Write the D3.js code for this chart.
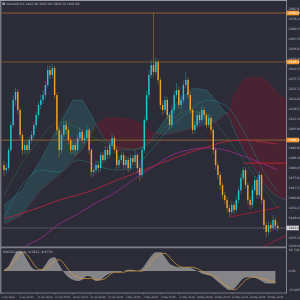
<!DOCTYPE html>
<html><head><meta charset="utf-8">
<script src="https://cdn.jsdelivr.net/npm/d3@7"></script>
<style>html,body{margin:0;padding:0;background:#2b2c38;overflow:hidden}text{font-family:"DejaVu Sans",sans-serif}</style>
</head><body><svg id="c" width="300" height="300"></svg>
<script>
// ---------- DATA ----------
const symbolTitle = "XAUUSD,H4  1942.90 1945.00 1939.50 1941.60";
const macdTitle = "MACD(12,26,9) -9.5621 -8.6734";
const opens = [1982.0,1978.9,1980.2,1991.8,2007.9,2024.0,2029.2,2017.6,2001.5,1991.8,1995.0,1991.8,1998.2,2001.5,2007.9,2014.3,2020.8,2024.0,2027.2,2033.7,
2043.3,2040.1,2044.6,2027.2,2004.7,1991.8,2001.5,2007.9,2004.7,1998.2,1991.8,1995.0,1991.8,1999.5,2003.4,1998.2,1999.5,2004.7,1991.8,1977.6,
1978.9,1982.1,1980.2,1988.6,1985.4,1991.8,1988.6,1995.0,1999.5,1991.8,1982.1,1985.4,1988.6,1982.1,1985.4,1980.2,1986.6,1984.1,1988.6,1980.2,
1975.7,1991.8,2011.1,2027.2,2040.1,2046.5,2042.0,2048.5,2036.9,2020.8,2017.6,2024.0,2014.3,2007.9,2017.6,2027.2,2030.4,2020.8,2024.0,2033.7,
2036.9,2027.2,2017.6,2004.7,2007.9,2014.3,2011.1,2017.6,2014.3,2007.9,2012.4,2004.7,1991.8,1982.1,1975.7,1969.3,1962.8,1959.6,1954.4,1951.9,
1956.4,1953.2,1959.6,1966.0,1973.8,1978.9,1969.3,1959.6,1956.4,1966.0,1972.5,1962.8,1975.7,1959.6,1943.5,1939.0,1943.5,1941.6,1946.7,1942.9];
const closes = [1978.9,1980.2,1991.8,2007.9,2024.0,2029.2,2017.6,2001.5,1991.8,1995.0,1991.8,1998.2,2001.5,2007.9,2014.3,2020.8,2024.0,2027.2,2033.7,2043.3,
2040.1,2044.6,2027.2,2004.7,1991.8,2001.5,2007.9,2004.7,1998.2,1991.8,1995.0,1991.8,1999.5,2003.4,1998.2,1999.5,2004.7,1991.8,1977.6,1978.9,
1982.1,1980.2,1988.6,1985.4,1991.8,1988.6,1995.0,1999.5,1991.8,1982.1,1985.4,1988.6,1982.1,1985.4,1980.2,1986.6,1984.1,1988.6,1980.2,1975.7,
1991.8,2011.1,2027.2,2040.1,2046.5,2042.0,2048.5,2036.9,2020.8,2017.6,2024.0,2014.3,2007.9,2017.6,2027.2,2030.4,2020.8,2024.0,2033.7,2036.9,
2027.2,2017.6,2004.7,2007.9,2014.3,2011.1,2017.6,2014.3,2007.9,2012.4,2004.7,1991.8,1982.1,1975.7,1969.3,1962.8,1959.6,1954.4,1951.9,1956.4,
1953.2,1959.6,1966.0,1973.8,1978.9,1969.3,1959.6,1956.4,1966.0,1972.5,1962.8,1975.7,1959.6,1943.5,1939.0,1943.5,1941.6,1946.7,1942.9,1941.6];
const highs = [1984.5,1983.0,1993.5,2010.0,2027.0,2032.0,2031.0,2019.0,2003.0,1997.5,1998.0,2000.5,2004.0,2010.0,2016.5,2023.0,2027.5,2030.5,2036.0,2046.5,
2046.0,2047.0,2046.0,2029.0,2006.5,2004.0,2010.5,2011.0,2006.5,2000.0,1997.5,1997.0,2002.0,2006.5,2005.0,2002.0,2008.0,2006.0,1993.0,1981.5,
1985.0,1984.5,1991.0,1990.5,1994.5,1994.0,1997.5,2002.5,2001.0,1993.5,1988.0,1991.0,1990.5,1988.0,1987.5,1989.0,1988.5,1991.5,1990.0,1982.0,
1994.0,2013.5,2030.0,2043.0,2050.0,2080.0,2051.5,2050.0,2038.5,2024.0,2027.0,2026.0,2016.0,2020.5,2030.0,2035.0,2032.5,2027.0,2036.5,2042.0,
2038.5,2029.0,2019.0,2010.5,2017.0,2016.5,2020.5,2019.5,2016.0,2015.0,2014.0,2006.5,1993.5,1984.0,1977.5,1971.0,1965.0,1961.5,1956.5,1959.0,
1958.5,1962.0,1968.5,1976.5,1981.0,1980.5,1971.0,1962.0,1968.5,1975.0,1974.0,1978.5,1977.0,1961.0,1945.5,1946.0,1945.5,1950.0,1948.5,1945.0];
const lows = [1975.0,1976.5,1978.5,1990.0,2006.0,2020.5,2015.0,1999.0,1988.5,1989.0,1989.5,1990.0,1996.0,1999.5,2005.5,2012.5,2018.0,2021.5,2025.0,2032.0,
2037.5,2038.0,2025.0,2001.5,1987.0,1989.5,1999.0,2002.0,1995.5,1989.0,1989.5,1988.5,1990.0,1997.5,1996.0,1995.5,1997.5,1989.0,1974.5,1975.0,
1976.5,1977.5,1978.0,1983.0,1983.5,1986.0,1986.5,1993.0,1989.5,1979.5,1980.0,1983.0,1979.5,1980.0,1977.5,1978.5,1981.5,1982.0,1977.0,1972.0,
1974.0,1990.0,2009.5,2025.0,2038.0,2039.0,2040.0,2034.0,2018.0,2014.5,2015.5,2012.0,2005.0,2006.0,2015.5,2025.0,2018.5,2018.0,2022.0,2031.5,
2025.0,2015.0,2002.0,2002.5,2006.0,2009.0,2009.5,2012.0,2005.5,2006.0,2002.0,1989.0,1979.5,1973.0,1966.5,1960.0,1957.0,1951.5,1948.5,1950.0,
1950.5,1951.5,1957.5,1964.0,1972.0,1967.0,1957.0,1953.5,1954.5,1964.0,1960.5,1961.0,1957.0,1940.5,1935.5,1937.0,1939.0,1939.5,1940.5,1939.5];

// indicator lines sampled every 8 bars (bar index -> price)
const maIdx = [0,8,16,24,32,40,48,56,64,72,80,88,96,104,112,119];
const maRed = [1947.4,1951.2,1955.1,1959.6,1962.8,1966.7,1971.8,1976.3,1980.9,1985.4,1989.9,1993.7,1997.0,1998.2,1997.0,1995.7];
const maPurple = [1919.7,1928.7,1935.1,1944.1,1950.6,1957.7,1964.1,1972.5,1980.2,1987.9,1991.8,1993.1,1991.8,1987.9,1983.4,1978.9];
const maGreen = [1962.8,1983.4,1999.5,2009.8,2006.0,1998.9,1994.4,1992.4,1997.0,2009.8,2016.9,2014.3,2001.5,1985.4,1969.3,1954.4];
const tealLine = [1948.0,1969.3,1978.9,1977.6,1985.4,1982.1,1978.9,1980.2,1991.8,2006.0,2016.3,2024.0,2020.8,2004.7,1980.2,1964.8];

// Ichimoku cloud
const cloudIdx = [0,8,16,24,30,34,38,40,44,50,56,60,64,66,70,76,82,88,92,96,98,100,104,108,112,116,120,123];
const spanA = [1956.4,1966.0,1985.4,2007.9,2024.0,2024.0,2014.3,2007.9,1998.2,1991.8,1991.8,1993.1,1998.2,2002.8,2011.1,2024.0,2031.7,2030.4,2024.0,2016.3,2012.4,2004.7,1991.8,1982.1,1972.5,1964.8,1960.9,1959.6];
const spanB = [1943.5,1949.9,1966.0,1975.7,1985.4,1991.8,2001.5,2007.9,2012.4,2012.4,2011.1,2007.9,2003.4,2002.8,2001.5,2003.4,2006.0,2007.9,2009.8,2014.3,2016.3,2027.2,2036.9,2038.8,2038.8,2033.7,2027.2,2024.0];

// horizontal levels and trend lines
const levels = [2080.00, 2048.50, 1998.20];
const redLevel = {from:104, to:124, price:1983.4};
const trendLines = [[98.3,1948.7,120,1955.1],[112.6,1929.3,123,1937.1]];

// price axis tick labels
const priceTicks = [2082.61,2076.20,2069.79,2063.38,2056.97,2050.56,2044.15,2037.74,2031.33,2024.92,2018.51,2012.10,2005.69,
1992.87,1986.46,1980.05,1973.64,1967.23,1960.82,1954.41,1948.00,1935.18,1930.00];

// MACD (every 2 bars)
const macdIdx = d3.range(0,120,2);
const macdHist = [1,4,11,16,15,9,3,1,1,5,10,11,5,-1,-5,-7,-8,-7,-4,-5,-8,-7,-4,-2,-1,-1,0,1,1,0,
2,7,12,15,15,11,6,4,3,3,3,2,0,-2,-3,-4,-7,-10,-13,-15,-14,-10,-6,-5,-5,-6,-8,-10,-10,-10];
const macdSignal = [0,2,7,12,15,13,8,3,1,2,5,8,9,6,1,-3,-5,-6,-6,-6,-7,-7,-6,-3,-1,-1,-1,0,0,0,
0,2,7,11,14,14,11,7,4,3,3,3,2,0,-2,-3,-5,-8,-11,-13,-15,-13,-9,-6,-5,-5,-6,-7,-8,-9];
const macdTicks = [16.729, 0.00, -15.087];
const macdTickText = ["16.729","0.00","-15.087"];

const dateLabels = ["3 Apr 2023","6 Apr 16:00","12 Apr 08:00","17 Apr 00:00","19 Apr 16:00","24 Apr 08:00","27 Apr 00:00","1 May 16:00",
"4 May 08:00","9 May 00:00","11 May 16:00","16 May 08:00","19 May 00:00","23 May 16:00","26 May 08:00","30 May 16:00"];

// ---------- DRAW ----------
const C = {bg:'#2b2c38', bull:'#27c6d6', bear:'#f2a32a', axis:'#9a9aa2', txt:'#bdbdc4',
  levels:['#b06a28','#6b4a31','#7d5430'], tag:'#f0962a'};
const svg = d3.select('#c');
svg.append('rect').attr('width',300).attr('height',300).attr('fill',C.bg);

const x = d3.scaleLinear().domain([0,119]).range([4,277.7]);
const y = d3.scaleLinear().domain([1930.0,2082.6]).range([246,9]);
const yM = d3.scaleLinear().domain([-15.087,16.729]).range([290,250]);

const defs = svg.append('defs');
defs.append('clipPath').attr('id','mc').append('rect').attr('x',1.5).attr('y',1).attr('width',285).attr('height',245.6);
defs.append('clipPath').attr('id','sc').append('rect').attr('x',1.5).attr('y',248.5).attr('width',285).attr('height',44);
const main = svg.append('g').attr('clip-path','url(#mc)');

// cloud
const cloud = cloudIdx.map((d,i)=>({i:d,a:spanA[i],b:spanB[i]}));
main.append('path').datum(cloud)
  .attr('d', d3.area().x(d=>x(d.i)).y0(d=>y(d.b)).y1(d=>y(Math.max(d.a,d.b))))
  .attr('fill','#2f6672').attr('fill-opacity',0.38);
main.append('path').datum(cloud)
  .attr('d', d3.area().x(d=>x(d.i)).y0(d=>y(d.b)).y1(d=>y(Math.min(d.a,d.b))))
  .attr('fill','#5c1f2e').attr('fill-opacity',0.62);
main.append('path').datum(cloud).attr('d', d3.line().x(d=>x(d.i)).y(d=>y(d.a)))
  .attr('fill','none').attr('stroke','#2f8490').attr('stroke-width',0.5).attr('opacity',0.8);
main.append('path').datum(cloud).attr('d', d3.line().x(d=>x(d.i)).y(d=>y(d.b)))
  .attr('fill','none').attr('stroke','#7a2838').attr('stroke-width',0.5).attr('opacity',0.8);

// levels
levels.forEach((v,k)=>{
  main.append('line').attr('x1',0).attr('x2',287).attr('y1',y(v)).attr('y2',y(v))
    .attr('stroke',C.levels[k]).attr('stroke-width',k===0?0.8:1.3);
});
// bid line
main.append('line').attr('x1',0).attr('x2',287).attr('y1',y(closes[closes.length-1])).attr('y2',y(closes[closes.length-1]))
  .attr('stroke','#6c6c76').attr('stroke-width',0.7);

// moving averages
const ln = d3.line().x(d=>x(d[0])).y(d=>y(d[1])).curve(d3.curveMonotoneX);
const series = (arr)=>maIdx.map((d,i)=>[d,arr[i]]);
main.append('path').attr('d',ln(series(tealLine))).attr('fill','none').attr('stroke','#2a8a96').attr('stroke-width',0.6).attr('opacity',0.7);
main.append('path').attr('d',ln(series(maPurple))).attr('fill','none').attr('stroke','#9c2f8c').attr('stroke-width',0.8);
main.append('path').attr('d',ln(series(maRed))).attr('fill','none').attr('stroke','#b3243c').attr('stroke-width',0.9);
main.append('path').attr('d',ln(series(maGreen))).attr('fill','none').attr('stroke','#2f8f3f').attr('stroke-width',0.7).attr('stroke-dasharray','1,1.2');

// trend lines & red level
trendLines.forEach(t=>{
  main.append('line').attr('x1',x(t[0])).attr('y1',y(t[1])).attr('x2',x(t[2])).attr('y2',y(t[3]))
    .attr('stroke','#a81c32').attr('stroke-width',0.8);
});
main.append('line').attr('x1',x(redLevel.from)).attr('x2',x(redLevel.to)).attr('y1',y(redLevel.price)).attr('y2',y(redLevel.price))
  .attr('stroke','#c8202f').attr('stroke-width',0.9);

// candles
const idx = d3.range(closes.length);
const col = i => closes[i] >= opens[i] ? C.bull : C.bear;
main.selectAll('.wk').data(idx).join('line')
  .attr('x1',i=>x(i)).attr('x2',i=>x(i)).attr('y1',i=>y(highs[i])).attr('y2',i=>y(lows[i]))
  .attr('stroke',col).attr('stroke-width',0.6).attr('stroke-opacity',0.6);
const cw = 1.4;
main.selectAll('.bd').data(idx).join('rect')
  .attr('x',i=>x(i)-cw/2).attr('width',cw)
  .attr('y',i=>y(Math.max(opens[i],closes[i])))
  .attr('height',i=>Math.max(0.7, Math.abs(y(opens[i])-y(closes[i]))))
  .attr('fill',col);

// MACD subpanel
const sub = svg.append('g').attr('clip-path','url(#sc)');
const mData = macdIdx.map((d,i)=>({i:d,h:macdHist[i],s:macdSignal[i]}));
sub.append('path').datum(mData)
  .attr('d', d3.area().x(d=>x(d.i)).y0(yM(0)).y1(d=>yM(d.h)).curve(d3.curveMonotoneX))
  .attr('fill','#858588');
sub.append('path').datum(mData)
  .attr('d', d3.line().x(d=>x(d.i)).y(d=>yM(d.s)).curve(d3.curveMonotoneX))
  .attr('fill','none').attr('stroke','#c9953c').attr('stroke-width',0.8);

// frame
const fr = svg.append('g').attr('stroke',C.axis).attr('fill','none');
fr.append('line').attr('x1',0).attr('x2',287).attr('y1',0.5).attr('y2',0.5).attr('stroke-width',1);
fr.append('line').attr('x1',0.8).attr('x2',0.8).attr('y1',0).attr('y2',293);
fr.append('line').attr('x1',286.5).attr('x2',286.5).attr('y1',0).attr('y2',293).attr('stroke-width',0.8);
fr.append('line').attr('x1',0).attr('x2',287).attr('y1',247.4).attr('y2',247.4).attr('stroke-width',1.6).attr('stroke','#7e7e86');
fr.append('line').attr('x1',0).attr('x2',287).attr('y1',293).attr('y2',293).attr('stroke-width',0.7);

// price axis labels
const fs = 3.1;
svg.append('g').selectAll('text').data(priceTicks).join('text')
  .attr('x',288.5).attr('y',d=>y(d)).attr('dy','0.35em').attr('font-size',fs).attr('fill',C.txt)
  .text(d=>d.toFixed(2));
// level tags
levels.forEach(v=>{
  svg.append('rect').attr('x',286.5).attr('y',y(v)-2.3).attr('width',12.5).attr('height',4.6).attr('fill',C.tag);
  svg.append('text').attr('x',288.5).attr('y',y(v)).attr('dy','0.35em').attr('font-size',fs).attr('fill','#fff').text(v.toFixed(2));
});
const last = closes[closes.length-1];
svg.append('rect').attr('x',286.5).attr('y',y(last)-2.3).attr('width',12.5).attr('height',4.6).attr('fill','#d6d6da');
svg.append('text').attr('x',288.5).attr('y',y(last)).attr('dy','0.35em').attr('font-size',fs).attr('fill','#222').text(last.toFixed(2));

// MACD axis labels
svg.append('g').selectAll('text').data(macdTicks).join('text')
  .attr('x',288.5).attr('y',d=>yM(d)).attr('dy','0.35em').attr('font-size',fs).attr('fill',C.txt)
  .text((d,i)=>macdTickText[i]);

// date labels
const xd = d3.scaleLinear().domain([0,15]).range([2,267.5]);
svg.append('g').selectAll('text').data(dateLabels).join('text')
  .attr('x',(d,i)=>xd(i)).attr('y',298.3).attr('font-size',2.3).attr('fill',C.txt).text(d=>d);
svg.append('g').selectAll('line').data(dateLabels).join('line')
  .attr('x1',(d,i)=>xd(i)).attr('x2',(d,i)=>xd(i)).attr('y1',293).attr('y2',294.5).attr('stroke',C.axis).attr('stroke-width',0.5);

// titles
svg.append('rect').attr('x',2.5).attr('y',2.5).attr('width',2.5).attr('height',2.5).attr('fill','#9a9aa2');
svg.append('text').attr('x',6).attr('y',5.2).attr('font-size',fs).attr('fill',C.txt).text(symbolTitle);
svg.append('text').attr('x',3).attr('y',252.6).attr('font-size',fs).attr('fill',C.txt).text(macdTitle);
</script></body></html>
